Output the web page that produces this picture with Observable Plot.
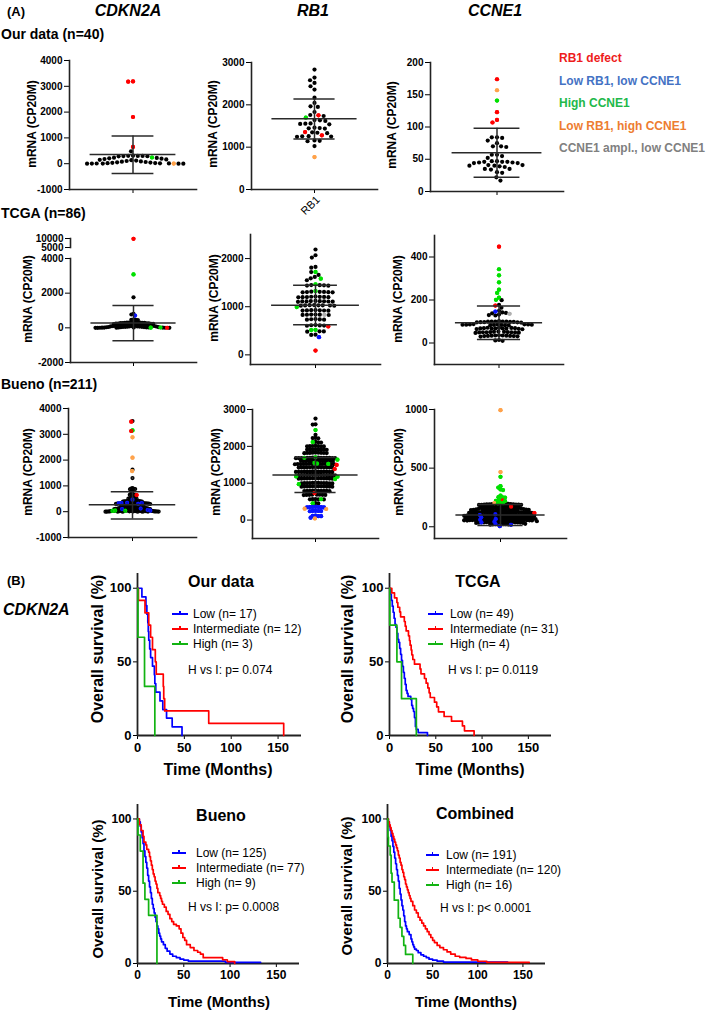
<!DOCTYPE html>
<html><head><meta charset="utf-8">
<script src="https://cdn.jsdelivr.net/npm/d3@7"></script>
<script src="https://cdn.jsdelivr.net/npm/@observablehq/plot@0.6"></script>
<style>
body{margin:0;background:#fff;}
#root{position:relative;width:709px;height:1010px;overflow:hidden;font-family:"Liberation Sans",Arial,Helvetica,sans-serif;color:#000;background:#fff;}
.t{position:absolute;white-space:nowrap;line-height:1;}
</style></head><body><div id="root"></div>
<script>
// ---------------- DATA ----------------
// Panel A: scatter values per colour group (mRNA, CP20M)
const cdkn2aOurBlack = [480,310,305,300,300,295,290,285,235,225,210,195,180,165,150,135,120,105,90,80,65,55,45,35,25,20,15,10,8,5,3,2,0,0];
const cdkn2aOurRed = [3190,3180,1810,650];
const cdkn2aOurGreen = [240];
const cdkn2aOurOrange = [5];
const cdkn2aOurStat = [353,1075,-381];

const rb1OurBlack = [2834,2644,2581,2518,2439,2360,2170,2044,1965,1950,1831,1760,1736,1640,1634,1620,1560,1555,1550,1540,1460,1452,1445,1440,1350,1340,1330,1260,1255,1250,1245,1160,1150,1140,1026];
const rb1OurRed = [1752,1357,1279];
const rb1OurGreen = [1697];
const rb1OurOrange = [766];
const rb1OurStat = [1673,2139,1192];

const ccne1OurBlack = [84,84,83,79,75,70,70,69,57,57,55,52,47,47,46,46,46,45,45,44,44,41,41,40,40,39,38,35,35,34,30,29,22,17];
const ccne1OurRed = [174,123,111,107];
const ccne1OurOrange = [157];
const ccne1OurGreen = [141];
const ccne1OurStat = [60,98,22];

const cdkn2aTcgaBlack = [1760,805,770,470,460,455,450,330,
 322,314,311,303,299,296,288,284,281,273,268,263,254,249,241,233,226,219,211,203,199,191,187,181,173,169,161,157,151,144,141,134,131,124,116,112,106,99,93,89,85,79,77,71,63,61,57,51,47,43,41,36,33,29,26,22,18,16,13,11,8,6,5,3,2,1];
const cdkn2aTcgaRed = [9800,5];
const cdkn2aTcgaGreen = [3080,20,10];
const cdkn2aTcgaBlue = [710];
const cdkn2aTcgaStat = [280,1290,-740];

const rb1TcgaBlack = [2188,2069,2021,1826,1810,1720,1660,1618,1590,1550,
 1450,1445,1440,1448,1438, 1310,1305,1300,1308,1298,1312,1302,
 1205,1201,1198,1210,1195,1203,1207,1199, 1115,1111,1108,1120,1105,1113,1118,1102,1110,
 1030,1028,1025,1035,1022,1032,1027,1020, 928,924,920,930,918,926,922,
 835,833,830,838,828,836, 740,736,732,745,730, 615,611,608,620,605, 490,486,482, 420,415];
const rb1TcgaGreen = [1722,1583,1465,1326,993,521,515];
const rb1TcgaRed = [590,90];
const rb1TcgaBlue = [368];
const rb1TcgaGray = [833];
const rb1TcgaStat = [1028,1444,625];

const ccne1TcgaBlack = [199,177,164,150,142,140,138,132,130,128,102,
 100,99,98,97,99,96,98,100,97,95,99,96,
 86,85,84,87,83,85,86,84,82,88,85,83,86,
 70,68,67,69,66,71,68,65,70,67,69,64,68,
 52,50,51,49,53,48,50,52,47,51,49,50,
 35,33,32,34,31,36,33,30,34,32,35, 14,12,10];
const ccne1TcgaRed = [448,174];
const ccne1TcgaGreen = [343,315,282,248,233,211,201];
const ccne1TcgaBlue = [146];
const ccne1TcgaGray = [136];
const ccne1TcgaStat = [94,172,16];

const cdkn2aBuenoBlack = [3514,1628,1305,900,910,880,890,870,800,775,660,665,655,650,670,520,515,510,525,505,530,500,
 440,432,425,420,415,410,405,402,398,395,410,418,428,400,392,
 380,372,365,360,355,350,346,342,338,335,332,330,328,325,322,320,318,315,312,310,308,305,302,300,298,295,292,290,288,285,282,280,352,344,326,
 278,275,270,266,262,258,255,250,246,242,238,235,230,226,222,218,214,210,206,202,198,195,192,188,185,182,178,175,172,168,165,162,160,158,155,152,150,245,225,205,
 148,145,142,140,137,135,132,130,128,125,122,120,118,115,112,110,108,105,102,100,98,95,92,90,88,85,82,80,78,75,72,70,68,65,62,60,138,116,96,76,
 58,55,52,50,48,45,42,40,38,36,34,32,30,28,26,24,22,20,18,16,14,12,10,9,8,7,6,5,4,3,2,1,0,0,44,33,25,15,11];
const cdkn2aBuenoRed = [3488,3127,646];
const cdkn2aBuenoGreen = [3152,40,35,30];
const cdkn2aBuenoOrange = [2881,2093,1576];
const cdkn2aBuenoBlue = [465,345,335,330,320,300,120,100,65,40];
const cdkn2aBuenoStat = [271,775,-284];

const rb1BuenoBlack = [2753, 2598,2590, 2315, 2230,2224,2218, 2120,2110,2105,
 2010,2005,2000,2008,1998,2012,2003,
 1920,1915,1910,1918,1912,1922,1908,1916,
 1830,1823,1820,1826,1818,1828,1815,1825,1821,
 1690,1686,1683,1692,1680,1688,1685,1694,1679,1687,1682,1691,1684,
 1618,1613,1610,1616,1608,1615,1612,1620,1606,1614,1611,1617,
 1525,1522,1519,1527,1516,1524,1520,1529,1515,1523,1518,1526,
 1435,1431,1428,1437,1425,1433,1430,1439,1424,1432,1427,1436,1429,
 1318,1313,1310,1316,1307,1315,1312,1320,1305,1314,1309,1317,1311,1319,
 1228,1222,1219,1225,1216,1224,1220,1230,1214,1223,1218,1226,1221,1227,
 1135,1130,1127,1133,1124,1132,1128,1138,1122,1131,1126,1134,1129,
 1008,1003,1000,1006,997,1005,1001,1010,995,1004,999,1007,
 917,912,909,915,906,914,910,919,904,913,908,916,
 798,793,790,796,787,795,791,800,785,794,
 689,684,681,687,678,686,682,690, 570,565,562,568,560, 460,452];
const rb1BuenoGreen = [2443,2115,1686,1550,1640,1704,1522,1530,1176,1112,975,1185,565,456];
const rb1BuenoRed = [1495,1386,729];
const rb1BuenoOrange = [310,300,46];
const rb1BuenoBlue = [355,350,360,345,352,358,348,246,240,250,244,248,109,115,105,64,120];
const rb1BuenoStat = [1222,1700,745];

const ccne1BuenoBlack = [195,192,190,188,193,186,191,189,194,187,190,185,196,192,
 172,170,168,174,166,171,169,175,165,173,167,170,176,168,
 152,150,148,155,145,151,147,154,146,153,149,150,156,144,152,148,155,143,151,149,153,146,
 128,125,122,130,120,127,123,131,119,126,124,129,121,125,132,118,127,123,130,120,126,124,128,122,125,
 103,100,97,105,95,102,98,106,94,101,99,104,96,100,107,93,102,98,105,95,101,99,103,97,100,96,
 82,80,78,85,75,81,79,86,74,83,77,84,76,80,87,73,82,78,85,75,81,79,83,77,80,76,
 62,60,58,65,55,61,59,66,54,63,57,64,56,60,67,53,62,58,65,55,61,59,63,57,60,56,
 42,40,38,45,35,41,39,46,34,43,37,44,36,40,47,33,42,38,
 24,22,20,26,18,23,21,25];
const ccne1BuenoOrange = [994,466,202];
const ccne1BuenoGreen = [426,346,318,313,334,266,249,252,220,222,218,237,251,202,200,205];
const ccne1BuenoRed = [225,171,117];
const ccne1BuenoBlue = [100,65,60,43,23,5,17,37,105,80];
const ccne1BuenoStat = [100,190,10];

// axis ticks
const ticksCdkn2a = [-1000,0,1000,2000,3000,4000];
const ticksRb1Our = [0,1000,2000,3000];
const ticksCcne1Our = [0,50,100,150,200];
const ticksCdkn2aTcgaLow = [-2000,0,2000,4000];
const ticksCdkn2aTcgaHigh = [5000,10000];
const ticksRb1Tcga = [0,1000,2000];
const ticksCcne1Tcga = [0,200,400];
const ticksRb1Bueno = [0,1000,2000,3000];
const ticksCcne1Bueno = [0,500,1000];

const legendA = ["RB1 defect","Low RB1, low CCNE1","High CCNE1","Low RB1, high CCNE1","CCNE1 ampl., low CCNE1"];

// Panel B: Kaplan-Meier steps [months, survival %]
const kmOurLow = [[0,100],[4.7,94.1],[9,88.2],[10,82.4],[11,76.5],[11.5,70.6],[12,64.7],[13,58.8],[14,52.9],[16,47.1],[18,41.2],[18.5,35.3],[19.5,29.4],[24,23.5],[27,17.6],[31,11.8],[37,5.9],[47.5,0]];
const kmOurInt = [[0,100],[1,91.7],[8,83.3],[12,75],[14,66.7],[16,58.3],[19,50],[20,41.7],[27.5,33.3],[28,25],[29,16.7],[76,8.3],[156,0]];
const kmOurHigh = [[0,100],[0.5,66.7],[7.5,33.3],[18.5,0]];

const kmTcgaLow = [[0,100],[1,95.9],[2,91.8],[3,87.8],[4,83.7],[5,79.6],[6,75.5],[7,73.5],[8,69.4],[9,65.3],[10,63.3],[11,59.2],[12,55.1],[13,51],[14,46.9],[15,42.9],[16,38.8],[17,34.7],[18,30.6],[19,28.6],[20,26.5],[23,24.5],[24,20.4],[25,18.4],[26,16.3],[27,12.2],[28,6.1],[29,4.1],[31,2],[41,0]];
const kmTcgaInt = [[0,100],[2.5,96.8],[5.4,93.5],[8,90.3],[9,87.1],[11,83.9],[12,80.6],[16,77.4],[17,74.2],[18,71],[20.5,67.7],[21.6,64.5],[22.3,61.3],[23.4,58.1],[24.1,54.8],[25.2,51.6],[27,48.4],[33,45.2],[34,41.9],[37.8,38.7],[39.6,35.5],[41.4,32.3],[42.8,29],[44,25.8],[48.6,22.6],[51,19.4],[52.9,16.1],[59,12.9],[67,9.7],[78.8,6.5],[81,3.2],[91.4,0]];
const kmTcgaHigh = [[0,100],[0.3,75],[8,50],[13,25],[29,0]];

const kmBuenoLow = [[0,100],[2,98],[3,95],[4,91],[5,87],[6,83],[7,78],[8,74],[9,70],[10,66],[11,61],[12,57],[13,53],[14,49],[15,45],[16,41],[17,38],[18,35],[19,32],[20,29],[21,26],[22,24],[23,21],[24,19],[25,17],[26,15],[28,13],[30,10.5],[32,8.5],[35,6.5],[38,5],[42,4],[46,3],[50,2.4],[55,1.6],[95,0.8],[133,0.8]];
const kmBuenoInt = [[0,100],[2,96],[4,92],[6,88],[7,84],[9,82],[10,79],[12,77],[13,74],[14,71],[15,68],[16,65],[17,62],[18,60],[19,57],[20,55],[21,52],[22,49],[24,47],[25,45],[26,43],[27,41],[29,39],[31,36],[33,34],[35,31],[37,29],[39,27],[42,26],[45,24],[47,21],[49,18],[51,16],[53,13],[57,11],[61,9],[65,7.8],[68,6.5],[71,4],[90,4],[92,2.6],[97,1.3],[105,0]];
const kmBuenoHigh = [[0,100],[0.5,88.9],[3,77.8],[6,55.6],[8,44.4],[12,33.3],[21,0]];

const kmCombLow = [[0,100],[1,98],[2,95],[3,92],[4,88],[5,85],[6,81],[7,77],[8,73],[9,69],[10,65],[11,61],[12,57],[13,52],[14,48],[15,44],[16,40],[17,37],[18,33],[19,29],[20,26],[21,24],[22,22],[24,20],[26,17],[27,15],[28,13],[29,11.5],[30,10],[32,9],[34,7.5],[37,6],[40,5],[43,4],[46,3],[50,2.3],[55,1.6],[62,1],[133,1]];
const kmCombInt = [[0,100],[1,98],[2,96],[3,94],[4,92],[5,90],[6,88],[7,86],[8,84],[9,82],[10,80],[11,78],[12,75],[13,73],[14,70],[15,68],[16,65],[17,63],[18,60],[19,58],[20,55],[21,53],[22,51],[23,49],[24,47],[25,45],[26,43],[28,40],[30,37],[32,35],[34,32],[36,30],[38,28],[40,26],[42,24],[44,22],[46,20],[48,18],[50,16],[52,14.5],[55,12.5],[58,11],[62,9.5],[66,8],[70,6.5],[75,5],[80,4.2],[87,3.5],[93,2.5],[100,1.5],[110,0.8],[157,0.8]];
const kmCombHigh = [[0,100],[0.5,87.5],[1,81.3],[3,75],[4,62.5],[5,56.3],[7.5,43.8],[12,31.3],[14,25],[16,18.8],[18,12.5],[20,6.3],[28,0]];

const kmGroups = ["Low","Intermediate","High"];
const nOur = [17,12,3], nTcga = [49,31,4], nBueno = [125,77,9], nComb = [191,120,16];
const pOur = "H vs I: p= 0.074", pTcga = "H vs I: p= 0.0119", pBueno = "H vs I: p= 0.0008", pComb = "H vs I: p< 0.0001";
const kmTicksX = [0,50,100,150], kmTicksY = [0,50,100];

// ---------------- DRAWING ----------------
const FONT = '"Liberation Sans", Arial, Helvetica, sans-serif';
const COL = {k:"#000000", r:"#ff0000", b:"#0a14ff", g:"#00e000", o:"#ffa24a", a:"#b0b0b0"};
const LEGCOL = ["#ee1c1c","#4472c4","#22b84a","#ed7d31","#808080"];
const KMC = ["#0000ff","#ff0000","#12b312"];
const AX = "#222";
const PAD_OUTER = 0.24;
const DOT_R = 2.1;
const root = document.getElementById("root");

function txt(s, x, y, o = {}) {
  const d = document.createElement("div");
  d.className = "t";
  d.textContent = s;
  d.style.left = x + "px"; d.style.top = y + "px";
  d.style.fontSize = (o.size || 12) + "px";
  d.style.fontWeight = o.bold ? "bold" : "normal";
  d.style.fontStyle = o.italic ? "italic" : "normal";
  d.style.color = o.color || "#000";
  const a = o.anchor || "start";
  const tx = a === "middle" ? "-50%" : a === "end" ? "-100%" : "0";
  let t = `translate(${tx},-50%)`;
  if (o.rotate) {
    t += ` rotate(${o.rotate}deg)`;
    d.style.transformOrigin = a === "end" ? "100% 50%" : a === "middle" ? "50% 50%" : "0 50%";
  }
  d.style.transform = t;
  root.appendChild(d);
}
function place(svg, left, top) {
  svg.style.position = "absolute";
  svg.style.left = left + "px";
  svg.style.top = top + "px";
  root.appendChild(svg);
}

function scatter(p) {
  const [l, r, t, b] = p.frame;
  const ml = 50, mr = 6, mt = 6, mb = 24;
  const bw = (r - l) / (1 + 2 * PAD_OUTER); // band width of the single category
  const data = d3.sort(p.groups.flatMap(([g, arr]) => arr.filter(v => v >= p.domain[0] && v <= p.domain[1]).map(v => ({v, g}))), d => -d.v);
  const rl = p.rl ?? DOT_R;              // radius used for the swarm layout
  const sw = Math.max(0, 2 * (DOT_R - rl)); // stroke restores the drawn dot size
  // the band x scale shifts x-positioned marks by half a band; dodge gives frame pixels, so cancel it
  const dodge = (o) => Plot.dodgeX({anchor: "middle", padding: p.pad}, {y: "v", r: rl, dx: -bw / 2, stroke: d => COL[d.g], strokeWidth: sw, ...o});
  const marks = [Plot.frame({anchor: "left", stroke: AX, strokeWidth: 1.6})];
  if (p.xaxis !== false) marks.push(Plot.frame({anchor: "bottom", stroke: AX, strokeWidth: 1.6}));
  marks.push(Plot.dot(data, dodge({fill: d => COL[d.g]})));
  marks.push(Plot.dot(data, dodge({fill: d => COL[d.g], fillOpacity: d => d.g === "k" ? 0 : 1, strokeOpacity: d => d.g === "k" ? 0 : 1})));
  if (p.stat) {
    const st = [{c: "x", mean: p.stat[0], hi: p.stat[1], lo: p.stat[2]}];
    const s = {stroke: "#2a2a2a", strokeWidth: 1.5};
    marks.push(Plot.tickY(st, {x: "c", y: "mean", ...s}));
    marks.push(Plot.tickY(st, {x: "c", y: "hi", inset: 22, ...s}));
    marks.push(Plot.tickY(st, {x: "c", y: "lo", inset: 22, ...s}));
    marks.push(Plot.ruleX(st, {x: "c", y1: "lo", y2: "hi", ...s}));
  }
  const svg = Plot.plot({
    width: r - l + ml + mr, height: b - t + mt + mb,
    marginLeft: ml, marginRight: mr, marginTop: mt, marginBottom: mb,
    style: {background: "none", overflow: "visible", fontFamily: FONT, fontSize: "10px", fontWeight: "bold", color: "#000"},
    x: {type: "band", domain: ["x"], paddingInner: 0, paddingOuter: PAD_OUTER, round: false, tickSize: 4, tickFormat: () => "", label: null, axis: p.xaxis === false ? null : "bottom"},
    y: {domain: p.domain, ticks: p.ticks, tickFormat: d => String(d), tickSize: 5, tickPadding: 2, label: null},
    color: {type: "identity"},
    opacity: {type: "identity"},
    marks
  });
  place(svg, l - ml, t - mt);
}

function km(p) {
  const [l, r, t, b] = p.frame;
  const ml = 40, mr = 6, mt = 4, mb = 26;
  const marks = [Plot.ruleX([0], {stroke: AX, strokeWidth: 1.8}), Plot.ruleY([0], {stroke: AX, strokeWidth: 1.8})];
  p.curves.forEach((arr, i) => marks.push(Plot.line(arr, {x: d => d[0], y: d => d[1], curve: "step-after", stroke: KMC[i], strokeWidth: 1.7})));
  const svg = Plot.plot({
    width: r - l + ml + mr, height: b - t + mt + mb,
    marginLeft: ml, marginRight: mr, marginTop: mt, marginBottom: mb,
    style: {background: "none", overflow: "visible", fontFamily: FONT, fontSize: p.fs + "px", fontWeight: "bold", color: "#000"},
    x: {domain: [0, 175], ticks: kmTicksX, tickSize: 4, tickPadding: 3, label: null},
    y: {domain: [0, 110], ticks: kmTicksY, tickSize: 4, tickPadding: 2, label: null},
    marks
  });
  place(svg, l - ml, t - mt);
  txt(p.title, p.titleXY[0], p.titleXY[1], {size: 16, bold: true, anchor: "middle"});
  txt("Overall survival (%)", p.ylab[0], p.ylab[1], {size: p.labSize, bold: true, anchor: "middle", rotate: -90});
  txt("Time (Months)", p.xlab[0], p.xlab[1], {size: p.labSize, bold: true, anchor: "middle"});
  const [x0, x1, xt, y0] = p.leg;
  p.n.forEach((n, i) => {
    const y = y0 + i * 15;
    const ln = document.createElement("div");
    ln.style.cssText = `position:absolute;left:${x0}px;top:${y - 1}px;width:${x1 - x0}px;height:2px;background:${KMC[i]}`;
    root.appendChild(ln);
    const tk = document.createElement("div");
    tk.style.cssText = `position:absolute;left:${(x0 + x1) / 2 - 0.75}px;top:${y - 3.5}px;width:1.5px;height:3px;background:${KMC[i]}`;
    root.appendChild(tk);
    txt(`${kmGroups[i]} (n= ${n})`, xt, y, {size: 12});
  });
  txt(p.p, p.pXY[0], p.pXY[1], {size: 12});
}

// ---- Panel A ----
txt("(A)", 7, 11, {size: 13, bold: true});
txt("CDKN2A", 128, 11, {size: 16, bold: true, italic: true, anchor: "middle"});
txt("RB1", 313, 11, {size: 16, bold: true, italic: true, anchor: "middle"});
txt("CCNE1", 495, 11, {size: 16, bold: true, italic: true, anchor: "middle"});
txt("Our data (n=40)", 1, 34, {size: 14, bold: true});
txt("TCGA (n=86)", 1, 213, {size: 14, bold: true});
txt("Bueno (n=211)", 1, 384, {size: 14, bold: true});
legendA.forEach((s, i) => txt(s, 559, [58, 81, 103, 126, 148][i], {size: 12, bold: true, color: LEGCOL[i]}));

scatter({groups: [["k", cdkn2aOurBlack], ["r", cdkn2aOurRed], ["g", cdkn2aOurGreen], ["o", cdkn2aOurOrange]], domain: [-1000, 4000], ticks: ticksCdkn2a, frame: [69, 196, 60, 189], pad: 0.6, stat: cdkn2aOurStat});
scatter({groups: [["k", rb1OurBlack], ["r", rb1OurRed], ["g", rb1OurGreen], ["o", rb1OurOrange]], domain: [0, 3000], ticks: ticksRb1Our, frame: [251, 377, 62, 189], pad: 1, stat: rb1OurStat});
scatter({groups: [["k", ccne1OurBlack], ["r", ccne1OurRed], ["g", ccne1OurGreen], ["o", ccne1OurOrange]], domain: [0, 200], ticks: ticksCcne1Our, frame: [430, 563, 62, 191], pad: 1, stat: ccne1OurStat});

scatter({groups: [["k", cdkn2aTcgaBlack], ["r", cdkn2aTcgaRed], ["g", cdkn2aTcgaGreen], ["b", cdkn2aTcgaBlue]], domain: [-2000, 4000], ticks: ticksCdkn2aTcgaLow, frame: [70, 196, 258, 362], pad: -2.0, stat: cdkn2aTcgaStat});
scatter({groups: [["r", cdkn2aTcgaRed]], domain: [5000, 10000], ticks: ticksCdkn2aTcgaHigh, frame: [70, 196, 238, 247], pad: 0, xaxis: false});
scatter({groups: [["k", rb1TcgaBlack], ["r", rb1TcgaRed], ["g", rb1TcgaGreen], ["b", rb1TcgaBlue], ["a", rb1TcgaGray]], domain: [-200, 2500], ticks: ticksRb1Tcga, frame: [250, 380, 234, 364], pad: 0.1, stat: rb1TcgaStat});
scatter({groups: [["k", ccne1TcgaBlack], ["r", ccne1TcgaRed], ["g", ccne1TcgaGreen], ["b", ccne1TcgaBlue], ["a", ccne1TcgaGray]], domain: [-100, 500], ticks: ticksCcne1Tcga, frame: [434, 563, 235, 364], pad: -0.5, stat: ccne1TcgaStat});

scatter({groups: [["k", cdkn2aBuenoBlack], ["r", cdkn2aBuenoRed], ["g", cdkn2aBuenoGreen], ["o", cdkn2aBuenoOrange], ["b", cdkn2aBuenoBlue]], domain: [-1000, 4000], ticks: ticksCdkn2a, frame: [68, 196, 408, 537], pad: 0, rl: 0.7, stat: cdkn2aBuenoStat});
scatter({groups: [["k", rb1BuenoBlack], ["r", rb1BuenoRed], ["g", rb1BuenoGreen], ["o", rb1BuenoOrange], ["b", rb1BuenoBlue]], domain: [-500, 3000], ticks: ticksRb1Bueno, frame: [252, 378, 409, 538], pad: -1.4, stat: rb1BuenoStat});
scatter({groups: [["k", ccne1BuenoBlack], ["r", ccne1BuenoRed], ["g", ccne1BuenoGreen], ["o", ccne1BuenoOrange], ["b", ccne1BuenoBlue]], domain: [-100, 1000], ticks: ticksCcne1Bueno, frame: [434, 566, 409, 538], pad: -1.6, stat: ccne1BuenoStat});

[[32, 124], [213, 124], [392, 125], [28, 299], [214, 298], [398, 299], [28, 472], [216, 472], [399, 472]]
  .forEach(([x, y]) => txt("mRNA (CP20M)", x, y, {size: 12, bold: true, anchor: "middle", rotate: -90}));
txt("RB1", 318, 198, {size: 11, anchor: "end", rotate: -45});

// ---- Panel B ----
txt("(B)", 7, 580, {size: 13, bold: true});
txt("CDKN2A", 3, 610, {size: 16, bold: true, italic: true});

km({curves: [kmOurLow, kmOurInt, kmOurHigh], frame: [137, 301, 573, 735], fs: 13, title: "Our data", titleXY: [221, 582], ylab: [98, 649], xlab: [218, 770], labSize: 16, leg: [172, 188, 193, 614], n: nOur, p: pOur, pXY: [188, 670]});
km({curves: [kmTcgaLow, kmTcgaInt, kmTcgaHigh], frame: [389, 551, 573, 735], fs: 13, title: "TCGA", titleXY: [478, 582], ylab: [348, 649], xlab: [470, 770], labSize: 16, leg: [428, 443, 450, 614], n: nTcga, p: pTcga, pXY: [448, 670]});
km({curves: [kmBuenoLow, kmBuenoInt, kmBuenoHigh], frame: [137, 299, 804, 963], fs: 12, title: "Bueno", titleXY: [221, 816], ylab: [97, 889], xlab: [219, 1001], labSize: 15, leg: [172, 186, 196, 853], n: nBueno, p: pBueno, pXY: [188, 907]});
km({curves: [kmCombLow, kmCombInt, kmCombHigh], frame: [387, 545, 804, 963], fs: 12, title: "Combined", titleXY: [475, 814], ylab: [346, 886], xlab: [466, 1001], labSize: 15, leg: [426, 439, 446, 855], n: nComb, p: pComb, pXY: [440, 908]});
</script></body></html>
